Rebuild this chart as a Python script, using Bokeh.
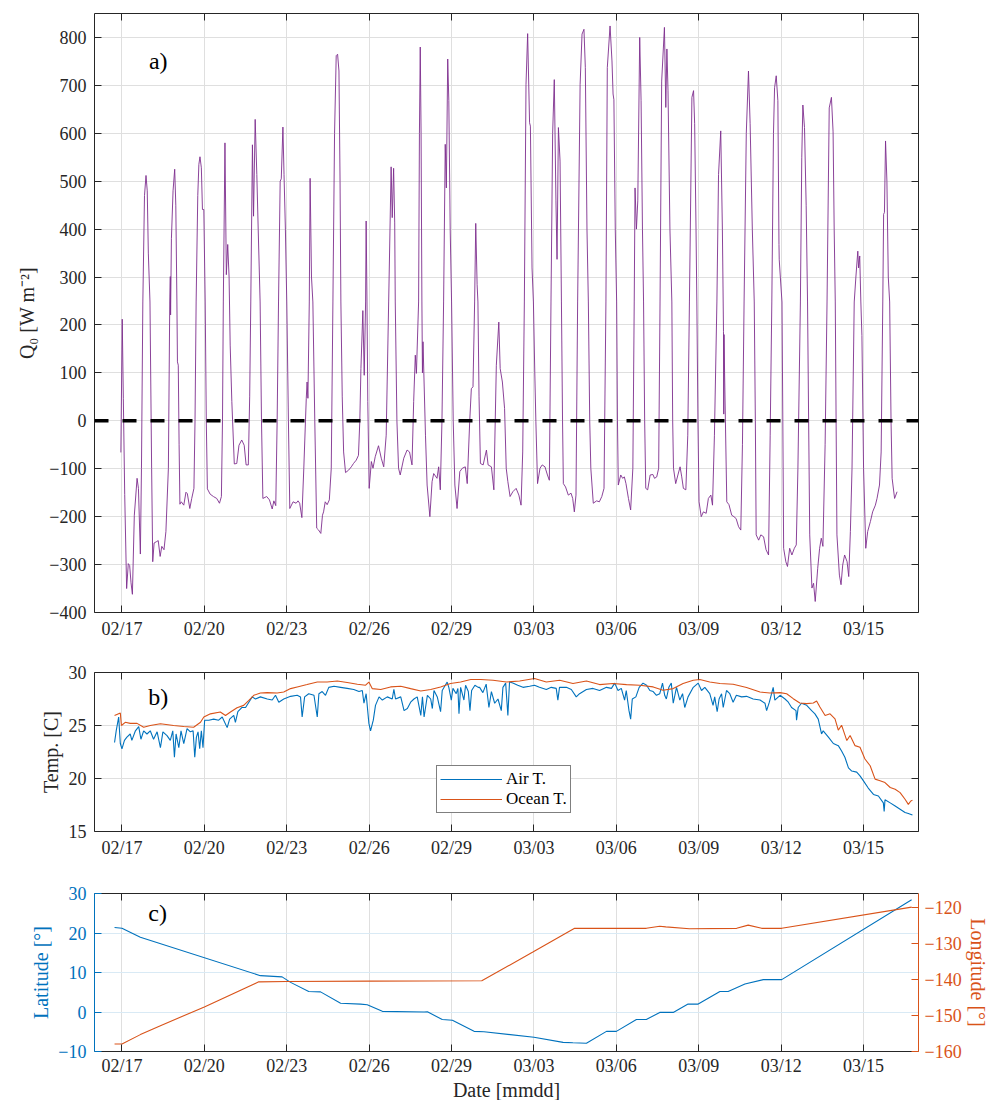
import numpy as np
import pandas as pd
from bokeh.plotting import figure
from bokeh.layouts import column
from bokeh.models import (Range1d, LinearAxis, FixedTicker, Label, Span, Legend, LegendItem,
                          CustomLabelingPolicy)
from bokeh.embed import file_html
from bokeh.resources import INLINE

# ---------------- data ----------------
# x = days since 2016-02-16 00:00
tick_days = [1, 4, 7, 10, 13, 16, 19, 22, 25, 28]
tick_labels = ["02/17", "02/20", "02/23", "02/26", "02/29", "03/03", "03/06", "03/09", "03/12", "03/15"]

q_day = [0.96, 1.01, 1.05, 1.10, 1.17, 1.23, 1.28, 1.33, 1.38, 1.45, 1.55, 1.60, 1.67, 1.71, 1.76, 1.82, 1.875, 1.92, 1.96, 2.02,
         2.08, 2.12, 2.17, 2.26, 2.32, 2.39, 2.45, 2.53, 2.60, 2.69, 2.74, 2.76, 2.77, 2.80, 2.86, 2.92, 2.96, 3.00, 3.02, 3.05,
         3.08, 3.11, 3.16, 3.25, 3.33, 3.38, 3.47, 3.54, 3.62, 3.66, 3.70, 3.76, 3.80, 3.84, 3.89, 3.93, 3.98, 4.03, 4.07, 4.11,
         4.21, 4.33, 4.45, 4.55, 4.62, 4.66, 4.69, 4.75, 4.80, 4.85, 4.90, 4.94, 5.00, 5.09, 5.18, 5.26, 5.36, 5.45, 5.52, 5.60,
         5.65, 5.69, 5.75, 5.79, 5.85, 5.91, 5.96, 6.03, 6.08, 6.13, 6.27, 6.37, 6.47, 6.53, 6.60, 6.65, 6.70, 6.76, 6.80, 6.86,
         6.90, 6.95, 7.00, 7.06, 7.11, 7.23, 7.34, 7.41, 7.47, 7.55, 7.62, 7.71, 7.74, 7.77, 7.82, 7.85, 7.90, 7.95, 8.02, 8.09,
         8.16, 8.24, 8.30, 8.34, 8.40, 8.47, 8.55, 8.62, 8.68, 8.74, 8.80, 8.85, 8.90, 8.94, 8.97, 9.02, 9.07, 9.14, 9.25, 9.35,
         9.43, 9.53, 9.61, 9.66, 9.70, 9.77, 9.82, 9.87, 9.89, 9.92, 9.95, 10.00, 10.08, 10.14, 10.22, 10.34, 10.44, 10.53, 10.62, 10.71,
         10.80, 10.84, 10.89, 10.93, 10.95, 11.01, 11.07, 11.13, 11.26, 11.38, 11.47, 11.56, 11.62, 11.68, 11.72, 11.80, 11.83, 11.86, 11.89, 11.92,
         11.94, 11.96, 12.05, 12.11, 12.21, 12.29, 12.35, 12.47, 12.53, 12.59, 12.65, 12.71, 12.77, 12.81, 12.86, 12.90, 12.95, 13.00, 13.06, 13.12,
         13.20, 13.30, 13.39, 13.50, 13.57, 13.66, 13.72, 13.78, 13.84, 13.88, 13.93, 13.96, 14.00, 14.05, 14.15, 14.27, 14.33, 14.45, 14.54, 14.63,
         14.72, 14.77, 14.85, 14.93, 14.99, 15.05, 15.13, 15.23, 15.35, 15.45, 15.53, 15.59, 15.65, 15.71, 15.77, 15.84, 15.87, 15.93, 15.98, 16.03,
         16.07, 16.13, 16.22, 16.30, 16.40, 16.49, 16.56, 16.62, 16.68, 16.74, 16.80, 16.84, 16.89, 16.95, 17.00, 17.04, 17.07, 17.15, 17.25, 17.35,
         17.41, 17.47, 17.53, 17.59, 17.68, 17.75, 17.82, 17.87, 17.93, 17.98, 18.03, 18.07, 18.16, 18.28, 18.38, 18.47, 18.55, 18.62, 18.67, 18.77,
         18.84, 18.88, 18.91, 18.96, 19.01, 19.04, 19.07, 19.16, 19.23, 19.29, 19.35, 19.44, 19.52, 19.60, 19.65, 19.68, 19.73, 19.78, 19.85, 19.90,
         19.95, 19.99, 20.03, 20.07, 20.14, 20.23, 20.33, 20.39, 20.47, 20.54, 20.59, 20.65, 20.75, 20.80, 20.84, 20.88, 20.95, 21.02, 21.05, 21.08,
         21.16, 21.24, 21.32, 21.38, 21.44, 21.53, 21.60, 21.66, 21.75, 21.81, 21.85, 21.90, 21.93, 21.97, 22.01, 22.09, 22.17, 22.27, 22.35, 22.44,
         22.50, 22.57, 22.66, 22.72, 22.80, 22.86, 22.90, 22.91, 22.92, 22.94, 23.02, 23.10, 23.20, 23.28, 23.36, 23.45, 23.53, 23.59, 23.65, 23.73,
         23.81, 23.87, 23.95, 24.02, 24.06, 24.09, 24.18, 24.26, 24.36, 24.45, 24.54, 24.60, 24.66, 24.72, 24.76, 24.82, 24.88, 24.92, 24.93, 24.97,
         25.03, 25.06, 25.09, 25.17, 25.23, 25.31, 25.39, 25.48, 25.55, 25.61, 25.70, 25.75, 25.79, 25.85, 25.91, 25.96, 26.00, 26.04, 26.12, 26.18,
         26.24, 26.33, 26.40, 26.46, 26.52, 26.60, 26.67, 26.75, 26.83, 26.89, 26.93, 26.97, 27.00, 27.03, 27.12, 27.18, 27.24, 27.31, 27.40, 27.46,
         27.52, 27.58, 27.66, 27.72, 27.79, 27.82, 27.86, 27.90, 27.94, 28.00, 28.08, 28.15, 28.25, 28.33, 28.43, 28.49, 28.58, 28.64, 28.70, 28.73,
         28.76, 28.80, 28.85, 28.90, 28.95, 29.00, 29.04, 29.13, 29.22]
q_val = [-66, 212, 46, -154, -350, -298, -302, -338, -362, -197, -120, -141, -278, -100, 248, 470, 512, 480, 350, 248,
         -100, -294, -255, -252, -250, -283, -262, -269, -231, -99, 248, 301, 221, 380, 480, 525, 450, 250, 123, 116,
         -50, -174, -169, -176, -149, -152, -183, -162, -141, 0, 248, 470, 535, 551, 528, 441, 441, 248, 0, -142,
         -153, -158, -162, -172, -158, 0, 248, 580, 305, 368, 300, 158, 40, -90, -89, -51, -40, -51, -92, -92,
         50, 248, 576, 427, 629, 514, 400, 248, 0, -162, -158, -165, -184, -167, -177, 0, 248, 500, 505, 613,
         514, 400, 248, 0, -183, -169, -172, -167, -172, -202, -100, 47, 81, 47, 248, 506, 300, 248, 0, -224,
         -228, -235, -197, -190, -169, -175, -165, -99, 248, 600, 762, 765, 730, 500, 248, 50, -65, -108, -103, -96,
         -89, -82, -72, 0, 109, 230, 95, 248, 417, 250, 40, -141, -85, -99, -75, -52, -78, -96, -30, 248,
         530, 424, 527, 413, 248, 0, -99, -113, -78, -61, -65, -92, 40, 137, 99, 248, 600, 780, 600, 248,
         100, 165, -30, -134, -200, -127, -110, -120, -96, -144, 0, 248, 577, 486, 755, 668, 400, 248, 0, -134,
         -183, -106, -99, -96, -131, -2, 67, 71, 248, 412, 284, 248, 50, -89, -92, -61, -92, -96, -144, 116,
         206, 109, 81, 26, -99, -127, -158, -148, -141, -155, -176, -65, 248, 702, 808, 622, 615, 319, 248, 100,
         -2, -131, -99, -92, -96, -113, -124, 248, 600, 712, 459, 337, 612, 542, 248, 0, -131, -138, -155, -151,
         -162, -190, -155, 248, 702, 807, 817, 737, 400, 248, 0, -99, -172, -167, -169, -158, -141, 248, 737, 824,
         751, 682, 670, 400, 248, 0, -134, -113, -120, -117, -131, -162, -186, -99, 248, 486, 400, 459, 800, 668,
         400, 248, 0, -141, -144, -113, -112, -120, -117, -99, 248, 709, 821, 654, 776, 690, 400, 248, 0, -99,
         -131, -113, -96, -117, -141, -144, -30, 248, 675, 689, 620, 400, 248, 0, -169, -200, -190, -193, -162, -155,
         -176, -30, 248, 514, 605, 400, 186, 14, 180, 100, -169, -175, -197, -200, -204, -221, -228, -50, 248, 600,
         730, 620, 400, 248, 0, -238, -249, -238, -242, -269, -280, -30, 248, 600, 695, 720, 668, 368, 336, 300,
         248, 0, -266, -294, -304, -266, -280, -266, -259, -99, 248, 550, 659, 612, 450, 248, 0, -238, -349, -339,
         -377, -308, -266, -245, -262, -50, 248, 653, 675, 603, 400, 248, 0, -238, -322, -342, -301, -280, -294, -325,
         -231, -99, 248, 300, 354, 319, 344, 250, 178, -99, -266, -231, -210, -190, -176, -162, -134, -65, 248, 431,
         435, 584, 500, 300, 248, 0, -120, -162, -148]

air_day = [0.73, 0.79, 0.88, 0.94, 1.00, 1.09, 1.18, 1.30, 1.36, 1.49, 1.61, 1.69, 1.79, 1.91, 2.03, 2.15, 2.28, 2.40, 2.49, 2.64,
           2.76, 2.85, 2.91, 2.97, 3.07, 3.15, 3.25, 3.37, 3.49, 3.59, 3.65, 3.71, 3.77, 3.83, 3.89, 3.95, 4.01, 4.16, 4.34, 4.52,
           4.65, 4.83, 4.92, 5.07, 5.13, 5.22, 5.37, 5.50, 5.62, 5.74, 5.86, 6.04, 6.29, 6.47, 6.59, 6.71, 6.89, 7.14, 7.38, 7.50,
           7.56, 7.65, 7.80, 7.99, 8.11, 8.17, 8.29, 8.41, 8.53, 8.72, 8.96, 9.20, 9.44, 9.63, 9.75, 9.81, 9.89, 9.99, 10.05, 10.15,
           10.23, 10.36, 10.48, 10.66, 10.84, 10.90, 10.96, 11.15, 11.27, 11.39, 11.51, 11.63, 11.75, 11.88, 11.94, 12.00, 12.12, 12.24, 12.30, 12.36,
           12.48, 12.60, 12.66, 12.84, 12.90, 12.99, 13.05, 13.17, 13.23, 13.27, 13.33, 13.45, 13.51, 13.61, 13.67, 13.73, 13.85, 13.97, 14.02, 14.14,
           14.26, 14.36, 14.45, 14.57, 14.69, 14.81, 14.87, 14.97, 15.05, 15.11, 15.23, 15.41, 15.60, 15.84, 16.02, 16.20, 16.45, 16.63, 16.81, 16.87,
           16.93, 17.18, 17.36, 17.54, 17.66, 17.91, 18.15, 18.39, 18.64, 18.82, 18.94, 19.06, 19.18, 19.30, 19.36, 19.46, 19.52, 19.58, 19.71, 19.83,
           19.97, 20.10, 20.22, 20.34, 20.46, 20.58, 20.68, 20.76, 20.82, 20.91, 21.00, 21.07, 21.19, 21.31, 21.41, 21.49, 21.61, 21.80, 21.98, 22.10,
           22.22, 22.40, 22.52, 22.58, 22.67, 22.74, 22.83, 22.89, 23.01, 23.13, 23.25, 23.37, 23.56, 23.74, 23.98, 24.23, 24.41, 24.47, 24.57, 24.71,
           24.77, 24.96, 25.14, 25.26, 25.38, 25.54, 25.56, 25.62, 25.74, 25.93, 26.11, 26.23, 26.35, 26.47, 26.53, 26.72, 26.90, 27.08, 27.20, 27.32,
           27.45, 27.57, 27.75, 27.87, 27.99, 28.17, 28.36, 28.54, 28.72, 28.75, 28.78, 28.97, 29.15, 29.33, 29.51, 29.63, 29.78]
air_t = [23.4, 24.5, 25.8, 23.3, 22.8, 23.6, 23.9, 24.2, 23.6, 24.5, 24.9, 23.7, 24.5, 24.2, 24.5, 23.7, 24.4, 22.9, 24.4, 24.05,
         23.6, 24.5, 22.0, 24.2, 22.9, 24.5, 23.3, 24.7, 24.4, 24.5, 22.0, 23.9, 24.4, 22.8, 24.5, 22.9, 25.5, 25.5, 25.6, 25.5,
         25.8, 24.8, 25.6, 25.95, 25.3, 26.3, 26.7, 26.7, 27.2, 27.7, 27.5, 27.7, 27.5, 27.4, 27.85, 27.2, 27.5, 27.75, 27.85, 27.7,
         25.8, 27.7, 28.0, 27.85, 25.8, 28.0, 28.2, 27.85, 28.6, 28.7, 28.6, 28.5, 28.4, 28.2, 28.3, 27.1, 28.0, 25.2, 24.5, 25.5,
         26.9, 27.7, 27.4, 27.7, 27.5, 28.4, 27.5, 27.7, 26.4, 26.6, 27.2, 27.5, 27.7, 25.95, 27.7, 25.8, 27.85, 27.5, 26.6, 28.3,
         27.7, 26.3, 28.3, 29.1, 28.6, 27.4, 28.5, 28.0, 28.5, 26.1, 28.6, 27.4, 28.8, 28.2, 26.4, 28.3, 28.8, 28.6, 28.6, 28.1,
         28.9, 26.7, 28.2, 27.1, 27.5, 26.4, 28.6, 29.0, 25.95, 29.1, 29.0, 28.8, 28.6, 28.7, 28.8, 28.6, 28.4, 28.6, 28.5, 27.4,
         28.6, 28.6, 28.4, 27.7, 28.0, 28.4, 28.5, 28.3, 28.6, 28.5, 29.0, 28.3, 28.5, 27.4, 28.3, 26.4, 25.6, 27.5, 27.7, 28.6,
         29.0, 28.8, 28.3, 28.2, 27.85, 28.0, 29.0, 27.85, 27.5, 28.6, 29.0, 27.1, 28.6, 27.4, 28.0, 26.7, 27.7, 28.6, 29.0, 28.3,
         28.6, 28.0, 26.9, 27.7, 26.3, 27.5, 28.0, 26.7, 28.3, 28.0, 27.2, 27.85, 27.7, 27.75, 27.5, 27.4, 27.1, 26.4, 27.2, 28.6,
         27.4, 27.85, 27.5, 27.2, 26.7, 26.4, 25.5, 26.7, 27.1, 26.9, 26.4, 26.1, 25.6, 24.2, 24.5, 23.9, 23.3, 23.1, 22.6, 22.0,
         21.0, 20.7, 20.6, 20.25, 19.8, 19.1, 18.5, 18.35, 17.7, 16.9, 18.0, 17.7, 17.4, 17.1, 16.8, 16.7, 16.55]

ocean_day = [0.73, 0.94, 0.98, 1.12, 1.30, 1.55, 1.79, 2.03, 2.40, 2.88, 3.25, 3.61, 3.86, 3.98, 4.22, 4.58, 4.77, 4.95, 5.19, 5.43,
             5.62, 5.80, 6.04, 6.29, 6.65, 6.89, 7.14, 7.38, 7.74, 8.11, 8.47, 8.84, 9.20, 9.57, 9.87, 9.99, 10.11, 10.42, 10.78, 11.15,
             11.51, 11.88, 12.24, 12.60, 12.96, 13.33, 13.70, 14.06, 14.51, 15.00, 15.48, 16.02, 16.45, 16.94, 17.42, 17.91, 18.39, 18.88, 19.37, 19.85,
             20.34, 20.70, 21.07, 21.43, 21.80, 22.04, 22.40, 22.77, 23.25, 23.74, 24.23, 24.59, 24.96, 25.20, 25.44, 25.68, 25.93, 26.17, 26.29, 26.41,
             26.60, 26.78, 26.96, 27.08, 27.20, 27.39, 27.51, 27.69, 27.87, 28.05, 28.24, 28.42, 28.60, 28.78, 28.97, 29.15, 29.33, 29.51, 29.63, 29.72,
             29.78]
ocean_t = [25.95, 26.17, 25.0, 25.3, 25.2, 25.2, 24.84, 25.0, 25.16, 25.0, 24.9, 24.84, 25.3, 25.8, 26.1, 26.27, 25.95, 26.27, 26.68, 26.9,
           27.37, 27.85, 28.07, 28.1, 28.07, 28.16, 28.48, 28.64, 28.86, 29.11, 29.11, 29.2, 29.05, 28.89, 28.8, 29.1, 28.48, 28.39, 28.64, 28.7,
           28.48, 28.26, 28.39, 28.64, 28.96, 29.11, 29.34, 29.34, 29.27, 29.11, 29.2, 29.43, 29.11, 29.27, 28.96, 29.2, 28.86, 28.96, 28.86, 28.8,
           28.64, 28.32, 28.48, 28.96, 29.27, 29.34, 29.11, 28.96, 28.89, 28.58, 28.16, 28.07, 28.1, 28.0, 27.53, 27.12, 27.06, 27.12, 27.31, 26.74,
           25.95, 26.1, 25.63, 24.56, 25.03, 23.58, 24.05, 23.1, 22.94, 21.84, 21.2, 19.94, 19.78, 19.62, 19.15, 18.99, 18.67, 18.04, 17.56, 17.88,
           17.94]

lat_day = [0.73, 1.00, 1.67, 6.04, 6.83, 7.14, 7.80, 8.23, 8.96, 9.69, 9.93, 10.48, 12.00, 12.12, 12.66, 13.03, 13.82, 14.18, 16.00, 17.06,
           17.42, 17.91, 18.64, 19.00, 19.73, 20.09, 20.58, 21.07, 21.61, 21.98, 22.77, 23.07, 23.68, 24.35, 25.02, 29.75]
lat_val = [21.4, 21.2, 18.9, 9.2, 8.9, 7.5, 5.2, 5.1, 2.2, 2.0, 1.85, 0.17, 0.0, 0.05, -1.9, -2.1, -4.9, -5.0, -6.4, -7.7,
           -7.8, -7.9, -4.9, -4.9, -1.9, -1.9, -0.1, -0.1, 2.0, 2.0, 5.2, 5.2, 7.1, 8.2, 8.2, 28.4]

lon_day = [0.73, 1.00, 1.67, 2.40, 4.00, 5.98, 7.01, 10.00, 14.10, 15.96, 17.48, 20.09, 20.58, 20.80, 21.66, 23.38, 23.80, 24.29, 25.02, 29.75]
lon_val = [-157.9, -157.9, -155.3, -152.8, -147.6, -140.6, -140.5, -140.4, -140.3, -132.3, -125.7, -125.7, -125.1, -125.3, -125.8, -125.7, -124.8, -125.7, -125.7, -119.8]

q_ticks = [-400, -300, -200, -100, 0, 100, 200, 300, 400, 500, 600, 700, 800]
t_ticks = [15, 20, 25, 30]
lat_ticks = [-10, 0, 10, 20, 30]
lon_ticks = [-160, -150, -140, -130, -120]

# ---------------- style ----------------
FONT = "Liberation Serif"
DARK = "#262626"
GRID = "#DFDFDF"
BLUE = "#0072BD"
ORANGE = "#D95319"
PURPLE = "#7E2F8E"
LBLUE = "#D9EAF5"
TICK_FS = "18px"
LABEL_FS = "20px"
FRAME_W = 824


def style_axis(ax, ticks, color=DARK, labels=True, overrides=None, standoff=7):
    ax.ticker = FixedTicker(ticks=ticks)
    ax.axis_line_color = color
    ax.axis_line_width = 1
    ax.major_tick_line_color = color
    ax.major_tick_in = 7
    ax.major_tick_out = 0
    ax.minor_tick_line_color = None
    ax.major_label_text_font = FONT
    ax.major_label_text_color = color
    if labels:
        ax.major_label_text_font_size = TICK_FS
        ax.major_label_standoff = standoff
    else:
        # tick marks only (box-style frame), no tick labels drawn
        ax.major_label_text_font_size = "1px"
        ax.major_label_standoff = 0
        ax.major_label_policy = CustomLabelingPolicy(code="return []")
    if overrides:
        ax.major_label_overrides = overrides
    ax.axis_label_text_font = FONT
    ax.axis_label_text_font_size = LABEL_FS
    ax.axis_label_text_font_style = "normal"
    ax.axis_label_text_color = color


x_over = {d: l for d, l in zip(tick_days, tick_labels)}


def make_fig(frame_h, yr, yticks, top, bottom, ylabel, ycolor=DARK, ygrid=GRID, ystand=8, xlabel=None):
    p = figure(frame_width=FRAME_W, frame_height=frame_h,
               x_range=Range1d(0, 30), y_range=Range1d(*yr),
               output_backend="svg", toolbar_location=None,
               min_border_left=94, min_border_right=52, min_border_top=top, min_border_bottom=bottom)
    p.background_fill_color = "white"
    p.border_fill_color = "white"
    p.outline_line_color = None
    bottom_ax = p.xaxis[0]
    style_axis(bottom_ax, tick_days, overrides=x_over, standoff=6)
    if xlabel:
        bottom_ax.axis_label = xlabel
        bottom_ax.axis_label_standoff = 0
        bottom_ax.major_label_standoff = 4
    style_axis(p.yaxis[0], yticks, color=ycolor, standoff=8)
    p.yaxis[0].axis_label = ylabel
    p.yaxis[0].axis_label_standoff = ystand
    top_ax = LinearAxis()
    style_axis(top_ax, tick_days, labels=False)
    p.add_layout(top_ax, "above")
    p.xgrid.ticker = FixedTicker(ticks=tick_days)
    p.ygrid.ticker = FixedTicker(ticks=yticks)
    p.xgrid.grid_line_color = GRID
    p.ygrid.grid_line_color = ygrid
    return p


# ---------------- panel a ----------------
p1 = make_fig(599, (-400, 850), q_ticks, 13, 38, "Q\u2080 [W m\u207b\u00b2]", ystand=8)
r1 = LinearAxis()
style_axis(r1, q_ticks, labels=False)
p1.add_layout(r1, "right")
p1.line(q_day, q_val, line_color=PURPLE, line_width=1.0, line_alpha=0.9)
p1.add_layout(Span(location=0, dimension="width", line_color="black", line_width=3.5, line_dash="14 14"))
p1.add_layout(Label(x=1.98, y=751, text="a)", text_font=FONT, text_font_size="24px",
                    text_baseline="middle", text_color="black"))

# ---------------- panel b ----------------
p2 = make_fig(159, (15, 30), t_ticks, 22, 39, "Temp. [C]", ystand=4)
r2 = LinearAxis()
style_axis(r2, t_ticks, labels=False)
p2.add_layout(r2, "right")
la = p2.line(air_day, air_t, line_color=BLUE, line_width=1.1)
lo = p2.line(ocean_day, ocean_t, line_color=ORANGE, line_width=1.1)
leg = Legend(items=[LegendItem(label="Air T.", renderers=[la]), LegendItem(label="Ocean T.", renderers=[lo])],
             location=(342, 18), orientation="vertical")
leg.label_text_font = FONT
leg.label_text_font_size = "17px"
leg.label_text_color = "black"
leg.glyph_width = 62
leg.glyph_height = 16
leg.label_height = 16
leg.label_standoff = 4
leg.spacing = 0
leg.padding = 3
leg.margin = 0
leg.border_line_color = "black"
leg.border_line_width = 1
leg.background_fill_color = "white"
leg.background_fill_alpha = 1
p2.add_layout(leg, "center")
p2.add_layout(Label(x=1.96, y=27.67, text="b)", text_font=FONT, text_font_size="24px",
                    text_baseline="middle", text_color="black"))

# ---------------- panel c ----------------
p3 = make_fig(158, (-10, 30), lat_ticks, 23, 44, "Latitude [\u00b0]", ycolor=BLUE, ygrid=LBLUE,
              ystand=3, xlabel="Date [mmdd]")
p3.extra_y_ranges = {"lon": Range1d(-160, -116)}
r3 = LinearAxis(y_range_name="lon", axis_label="Longitude [\u00b0]")
style_axis(r3, lon_ticks, color=ORANGE, standoff=6)
r3.axis_label_standoff = 2
p3.add_layout(r3, "right")
p3.line(lat_day, lat_val, line_color=BLUE, line_width=1.1)
p3.line(lon_day, lon_val, line_color=ORANGE, line_width=1.1, y_range_name="lon")
p3.add_layout(Label(x=1.96, y=25.0, text="c)", text_font=FONT, text_font_size="24px",
                    text_baseline="middle", text_color="black"))

layout = column(p1, p2, p3, spacing=0)
open("out.html", "w").write(file_html(layout, INLINE))
